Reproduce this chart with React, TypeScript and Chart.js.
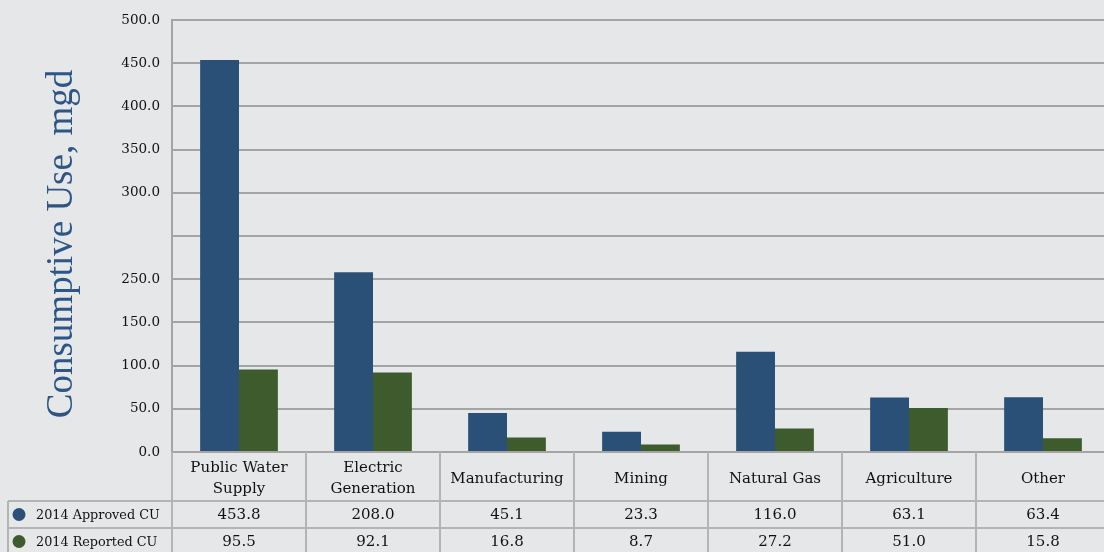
import { useEffect, useRef } from 'react';
import { Chart, registerables } from 'chart.js';

Chart.register(...registerables);

// Water-use categories (multi-line labels for the table header row)
const categories: string[][] = [
  ['Public Water', 'Supply'],
  ['Electric', 'Generation'],
  ['Manufacturing'],
  ['Mining'],
  ['Natural Gas'],
  ['Agriculture'],
  ['Other'],
];

const approvedCU = [453.8, 208.0, 45.1, 23.3, 116.0, 63.1, 63.4];
const reportedCU = [95.5, 92.1, 16.8, 8.7, 27.2, 51.0, 15.8];

const seriesNames = ['2014 Approved CU', '2014 Reported CU'];
const seriesColors = ['#2b5077', '#3d5b2d'];

// Tick labels as printed on the value axis (one per 50 mgd step)
const yTickLabels = ['0.0', '50.0', '100.0', '150.0', '250.0', '', '300.0', '350.0', '400.0', '450.0', '500.0'];

const axisTitle = 'Consumptive Use, mgd';

const BG = '#e6e7e9';
const GRID = '#a4a4a4';
const TABLE_LINE = '#b4b4b4';
const TEXT = '#111111';
const SERIF = '"DejaVu Serif", serif';

const dataTablePlugin = {
  id: 'dataTable',
  beforeDraw(chart: any) {
    const { ctx, width, height } = chart;
    ctx.save();
    ctx.fillStyle = BG;
    ctx.fillRect(0, 0, width, height);
    ctx.restore();
  },
  afterDraw(chart: any) {
    const { ctx, chartArea: ca, height } = chart;
    const n = categories.length;
    const cw = (ca.right - ca.left) / n;
    const headTop = ca.bottom;
    const row1 = headTop + 49;
    const row2 = row1 + 27;
    const tableLeft = 8;

    ctx.save();
    // grid of the table
    ctx.strokeStyle = TABLE_LINE;
    ctx.lineWidth = 2;
    ctx.beginPath();
    for (let i = 0; i <= n; i++) {
      const x = Math.round(ca.left + i * cw);
      ctx.moveTo(x, headTop);
      ctx.lineTo(x, height);
    }
    ctx.moveTo(tableLeft, row1);
    ctx.lineTo(ca.right, row1);
    ctx.moveTo(tableLeft, row2);
    ctx.lineTo(ca.right, row2);
    ctx.moveTo(tableLeft, row1);
    ctx.lineTo(tableLeft, height);
    ctx.stroke();

    // header row: category names
    ctx.fillStyle = TEXT;
    ctx.textAlign = 'center';
    ctx.textBaseline = 'middle';
    ctx.font = `15px ${SERIF}`;
    const headMid = (headTop + row1) / 2 + 2.5;
    categories.forEach((lines, i) => {
      const cx = ca.left + (i + 0.5) * cw;
      const lh = 21;
      const start = headMid - ((lines.length - 1) * lh) / 2;
      lines.forEach((t, k) => ctx.fillText(t, cx, start + k * lh));
    });

    // value rows
    const rows = [approvedCU, reportedCU];
    const rowMids = [(row1 + row2) / 2, row2 + 13.5];
    ctx.font = `15px ${SERIF}`;
    rows.forEach((vals, r) => {
      vals.forEach((v, i) => {
        const cx = ca.left + (i + 0.5) * cw;
        ctx.fillText(v.toFixed(1), cx, rowMids[r] + 1);
      });
    });

    // row legend keys
    ctx.textAlign = 'left';
    ctx.font = `12.8px ${SERIF}`;
    seriesNames.forEach((name, r) => {
      ctx.fillStyle = seriesColors[r];
      ctx.beginPath();
      ctx.arc(19, rowMids[r], 6.5, 0, Math.PI * 2);
      ctx.fill();
      ctx.fillStyle = TEXT;
      ctx.fillText(name, 36, rowMids[r] + 1);
    });

    // vertical axis title
    ctx.translate(72, 244);
    ctx.rotate(-Math.PI / 2);
    ctx.textAlign = 'center';
    ctx.textBaseline = 'alphabetic';
    ctx.fillStyle = '#2d5686';
    ctx.font = '37px "Liberation Serif", serif';
    ctx.fillText(axisTitle, 0, 0);
    ctx.restore();
  },
};

export default function App() {
  const canvasRef = useRef<HTMLCanvasElement | null>(null);

  useEffect(() => {
    document.body.style.margin = '0';
    document.body.style.overflow = 'hidden';
    document.body.style.background = BG;
    const canvas = canvasRef.current;
    if (!canvas) return;
    const chart = new Chart(canvas, {
      type: 'bar',
      data: {
        labels: categories.map((c) => c.join(' ')),
        datasets: [
          {
            label: seriesNames[0],
            data: approvedCU,
            backgroundColor: seriesColors[0],
            barPercentage: 1,
            categoryPercentage: 0.58,
          },
          {
            label: seriesNames[1],
            data: reportedCU,
            backgroundColor: seriesColors[1],
            barPercentage: 1,
            categoryPercentage: 0.58,
          },
        ],
      },
      options: {
        animation: false,
        responsive: false,
        devicePixelRatio: 1,
        layout: { padding: { top: 17, bottom: 100, left: 0, right: 0 } },
        plugins: {
          legend: { display: false },
          tooltip: { enabled: false },
          title: { display: false },
        },
        scales: {
          x: { display: false },
          y: {
            min: 0,
            max: 500,
            afterFit: (scale: any) => {
              scale.width = 172;
            },
            ticks: {
              stepSize: 50,
              padding: 12,
              color: TEXT,
              font: { family: SERIF, size: 13.5 },
              callback: (_v: any, i: number) => yTickLabels[i],
            },
            grid: { color: GRID, lineWidth: 2, drawTicks: false },
            border: { display: true, color: GRID, width: 2 },
          },
        },
      },
      plugins: [dataTablePlugin],
    });
    return () => chart.destroy();
  }, []);

  return (
    <div style={{ position: 'fixed', left: 0, top: 0, width: 1110, height: 552, background: BG }}>
      <canvas ref={canvasRef} width={1110} height={552} style={{ display: 'block' }} />
    </div>
  );
}
